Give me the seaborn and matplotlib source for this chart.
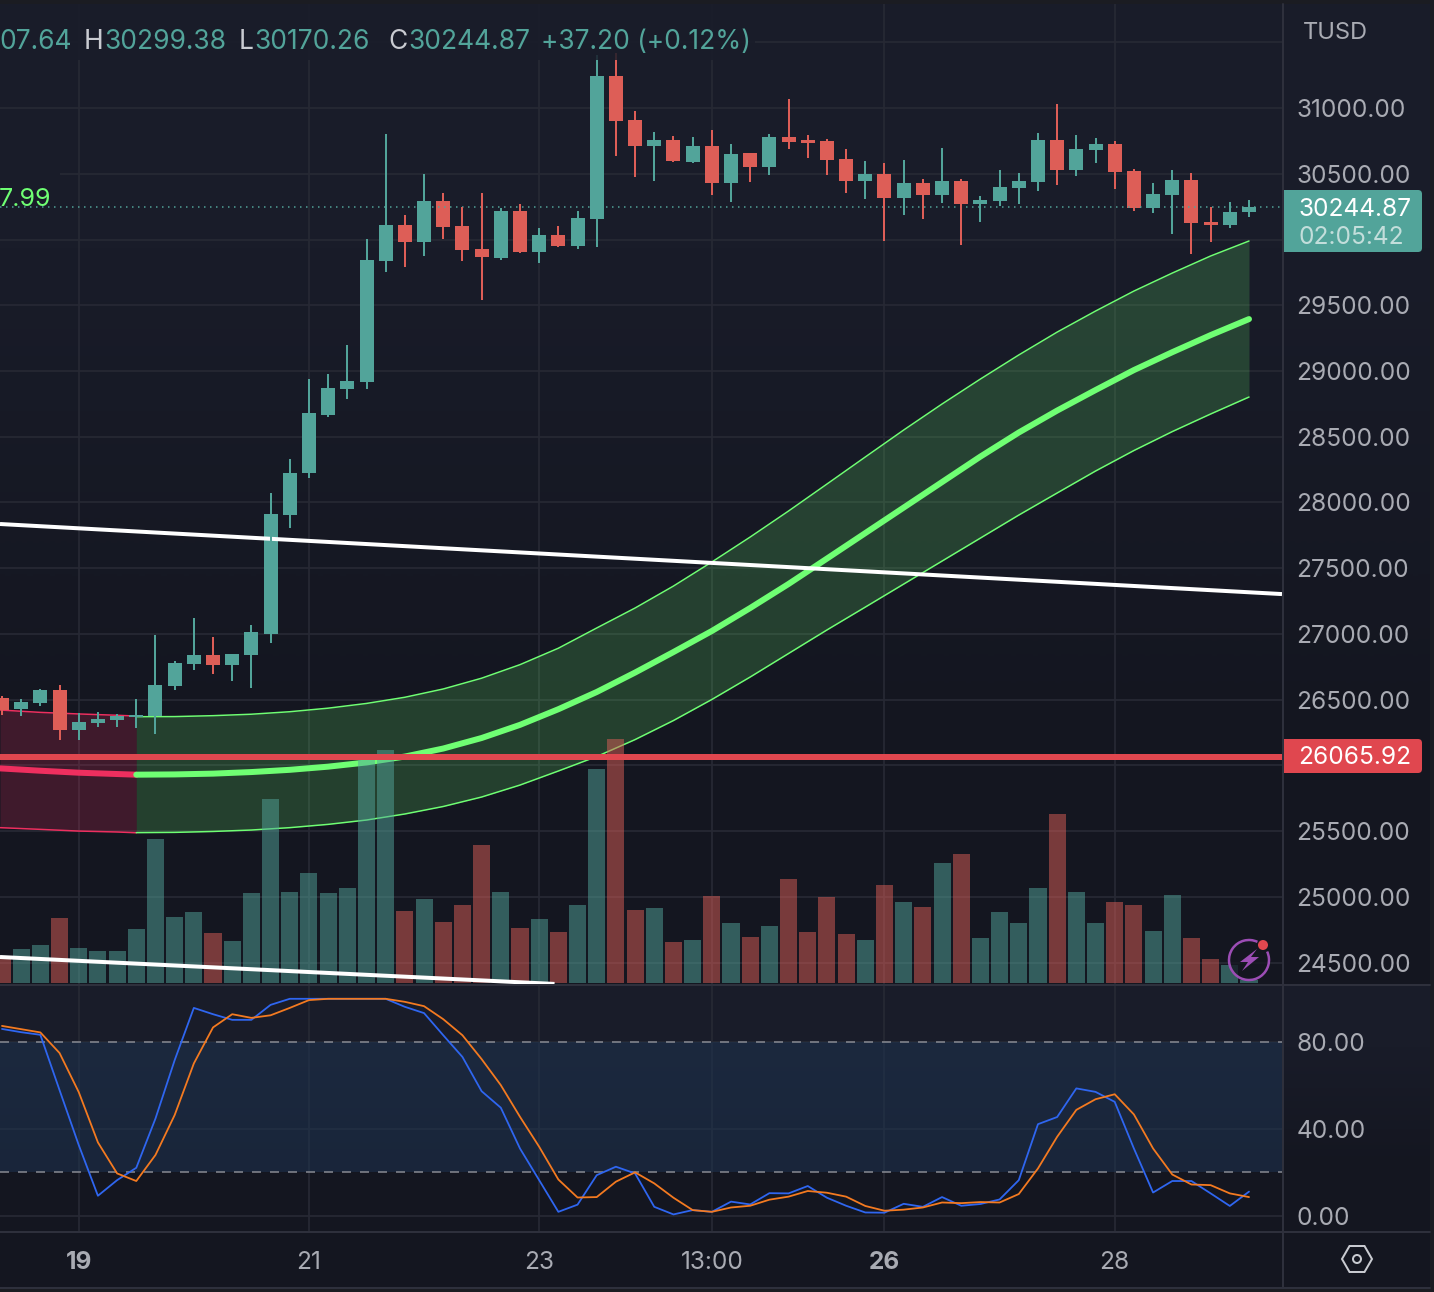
import matplotlib
matplotlib.use("Agg")
import matplotlib.pyplot as plt
from matplotlib.colors import LinearSegmentedColormap
from matplotlib.lines import Line2D
from matplotlib.patches import Circle, FancyBboxPatch, Polygon, Rectangle, RegularPolygon, Arc
import numpy as np
import pandas as pd
import seaborn as sns

W, H = 1434, 1292

opens = [26512, 26429, 26474, 26573, 26269, 26322, 26345, 26368, 26375, 26604,
         26771, 26839, 26763, 26839, 26999, 27904, 28224, 28665, 28863, 28916,
         29837, 30110, 29981, 30293, 30103, 29928, 29859, 30217, 29905, 30034,
         29951, 30156, 31244, 30909, 30711, 30757, 30590, 30711, 30430, 30658,
         30552, 30780, 30757, 30749, 30612, 30445, 30498, 30316, 30430, 30339,
         30445, 30270, 30293, 30392, 30438, 30757, 30529, 30681, 30727, 30521,
         30240, 30339, 30453, 30133, 30110, 30207.64]
highs = [26527, 26505, 26581, 26611, 26398, 26406, 26391, 26505, 26992, 26794,
         27121, 26976, 26847, 27068, 28072, 28330, 28939, 28977, 29198, 30004,
         30803, 30186, 30498, 30354, 30247, 30354, 30240, 30270, 30088, 30103,
         30217, 31404, 31419, 30978, 30818, 30787, 30780, 30833, 30727, 30658,
         30803, 31069, 30795, 30765, 30689, 30597, 30582, 30605, 30460, 30696,
         30460, 30331, 30529, 30506, 30810, 31030, 30795, 30772, 30749, 30536,
         30430, 30529, 30506, 30247, 30285, 30299.38]
lows = [26383, 26375, 26451, 26193, 26193, 26292, 26292, 26284, 26238, 26573,
        26725, 26695, 26642, 26588, 26931, 27806, 28186, 28650, 28787, 28863,
        29753, 29791, 29875, 30004, 29837, 29540, 29844, 29897, 29821, 29943,
        29928, 29943, 30635, 30476, 30445, 30590, 30582, 30339, 30285, 30438,
        30491, 30689, 30620, 30491, 30354, 30308, 29989, 30186, 30156, 30278,
        29958, 30133, 30255, 30270, 30369, 30415, 30483, 30582, 30384, 30217,
        30202, 30042, 29890, 29981, 30088, 30170.26]
closes = [26421, 26482, 26573, 26269, 26330, 26353, 26375, 26383, 26611, 26779,
          26839, 26763, 26847, 27014, 27912, 28224, 28680, 28870, 28924, 29844,
          30110, 29981, 30293, 30095, 29920, 29867, 30217, 29905, 30034, 29951,
          30164, 31244, 30902, 30711, 30757, 30597, 30711, 30430, 30651, 30552,
          30780, 30742, 30734, 30605, 30445, 30498, 30316, 30430, 30339, 30445,
          30270, 30301, 30399, 30445, 30757, 30529, 30689, 30727, 30514, 30240,
          30346, 30453, 30126, 30110, 30209, 30244.87]
volumes = [26, 34, 38, 65, 35, 32, 32, 54, 144, 66,
           71, 50, 42, 90, 184, 91, 110, 90, 95, 223,
           233, 72, 84, 61, 78, 138, 91, 55, 64, 51,
           78, 214, 244, 73, 75, 41, 43, 87, 60, 46,
           57, 104, 51, 86, 49, 43, 98, 81, 76, 120,
           129, 45, 71, 60, 95, 169, 91, 60, 81, 78,
           52, 88, 45, 24, 18, 3]

# envelope, sampled every second bar
bear_bars = [-0.104, 2, 4, 6, 7]
bear_upper = [26421, 26403, 26391, 26381, 26375]
bear_mid = [25977, 25959, 25944, 25934, 25929]
bear_lower = [25526, 25513, 25500, 25493, 25487]
bull_bars = list(range(7, 66, 2))
bull_upper = [26370, 26371, 26378, 26389, 26408, 26435, 26471, 26518, 26581, 26663,
              26766, 26891, 27045, 27197, 27364, 27547, 27737, 27935, 28140, 28346,
              28551, 28749, 28939, 29122, 29296, 29456, 29608, 29745, 29875, 29989]
bull_mid = [25929, 25931, 25937, 25949, 25966, 25990, 26022, 26067, 26128, 26208,
            26308, 26427, 26558, 26706, 26862, 27022, 27197, 27380, 27573, 27767,
            27961, 28155, 28349, 28532, 28699, 28855, 29007, 29143, 29273, 29395]
bull_lower = [25488, 25490, 25497, 25508, 25526, 25551, 25584, 25630, 25687, 25759,
              25850, 25957, 26067, 26196, 26341, 26501, 26672, 26851, 27030, 27204,
              27379, 27554, 27729, 27904, 28072, 28239, 28395, 28539, 28673, 28802]

trend_upper_x = [-0.104, 66.72]
trend_upper_y = [27836, 27303]
trend_lower_x = [-0.104, 28.8]
trend_lower_y = [24542, 24337]

stoch_k = [86.1, 84.6, 83.4, 57.9, 32.6, 9.2, 16.4, 22.1, 44.8, 71.7,
           95.8, 92.9, 90.3, 90.3, 97.2, 100, 100, 100, 100, 100,
           100, 96.3, 93.4, 83.2, 73.2, 57.4, 49.8, 31, 16.4, 1.8,
           5.1, 18.7, 22.6, 19.5, 4.1, 0.6, 2.6, 1.8, 6.5, 5.2,
           10.4, 10.3, 13.7, 8.3, 4.6, 1.5, 1.4, 5.5, 4.1, 8.6,
           4.6, 5.4, 7.5, 16.4, 42.2, 45.5, 58.7, 57.1, 52.5, 31,
           10.7, 16, 16, 10.3, 4.5, 11.1]
stoch_d = [87.5, 86, 84.5, 75, 57, 33.8, 19.5, 16, 28, 46.4,
           70.2, 86.8, 92.9, 91.2, 92.4, 95.8, 99.4, 100, 100, 100,
           100, 98.6, 96.6, 90.6, 83.2, 72.2, 60.2, 45.6, 31.8, 16.7,
           8.4, 8.6, 15.7, 20, 14.9, 8.3, 2.6, 1.8, 3.8, 4.6,
           7.4, 8.8, 11.4, 10.6, 8.8, 4.5, 2.3, 2.8, 3.8, 6.1,
           5.8, 6.3, 6.1, 10, 21.8, 36.4, 48.8, 53.7, 56, 46.7,
           31, 19, 14.4, 14.1, 10.3, 8.6]

price_ticks = list(range(24500, 32000, 500))
# these prices sit behind the tags or the unit label
hidden_ticks = [26000, 30000, 31500]
stoch_ticks = [0, 40, 80]
time_ticks = [4, 16, 28, 37, 46, 58]
time_labels = ["19", "21", "23", "13:00", "26", "28"]
bold_labels = ["19", "26"]

level_price = 26065.92
last_price = 30244.87

GREEN = "#52A49A"
RED = "#DD5E57"
LIME = "#6FFF73"
PINK = "#EE2F5F"
LEVEL = "#E0474F"
GRID = "#272934"
EDGE = "#2E303C"
LABEL = "#A9ABB3"
TOP_BG = "#191C29"
BOTTOM_BG = "#141620"

sns.set_theme(style="dark", rc={"axes.facecolor": "none", "figure.facecolor": "#1B1C22"})
plt.rcParams["font.family"] = ["Inter", "DejaVu Sans"]


def px_rect(x0, y0, x1, y1):
    return [x0 / W, 1 - y1 / H, (x1 - x0) / W, (y1 - y0) / H]


def px_lw(px):
    return px * 72 / 100


def gradient(fig, rect, top, bottom):
    ax = fig.add_axes(px_rect(*rect), zorder=-1)
    cmap = LinearSegmentedColormap.from_list("bg", [top, bottom])
    ax.imshow([[0], [1]], cmap=cmap, aspect="auto", interpolation="bilinear")
    ax.axis("off")


def clean(ax):
    for side in ax.spines:
        ax.spines[side].set_visible(False)
    ax.tick_params(length=0)


fig = plt.figure(figsize=(W / 100, H / 100), dpi=100)

gradient(fig, (0, 4, 1430, 985), TOP_BG, BOTTOM_BG)
gradient(fig, (0, 985, 1430, 1232), TOP_BG, BOTTOM_BG)
gradient(fig, (0, 1232, 1430, 1288), BOTTOM_BG, BOTTOM_BG)

bars = np.arange(len(closes))
xlim = (-0.104, 66.72)
price_lim = (24329, 31792)
main_rect = px_rect(0, 4, 1282, 985)

# grid and envelope
ax_base = fig.add_axes(main_rect, zorder=1)
clean(ax_base)
ax_base.set_yticks(price_ticks)
ax_base.set_xticks(time_ticks)
ax_base.grid(True, color=GRID, linewidth=px_lw(1.7))
ax_base.tick_params(labelleft=False, labelbottom=False)
ax_base.fill_between(bear_bars, bear_lower, bear_upper, color=PINK, alpha=0.2, linewidth=0)
ax_base.fill_between(bull_bars, bull_lower, bull_upper, color=LIME, alpha=0.18, linewidth=0)
for series in (bear_upper, bear_lower):
    sns.lineplot(x=bear_bars, y=series, ax=ax_base, color=PINK, linewidth=px_lw(1.5))
sns.lineplot(x=bear_bars, y=bear_mid, ax=ax_base, color=PINK, linewidth=px_lw(6))
for series in (bull_upper, bull_lower):
    sns.lineplot(x=bull_bars, y=series, ax=ax_base, color=LIME, linewidth=px_lw(1.5))
sns.lineplot(x=bull_bars, y=bull_mid, ax=ax_base, color=LIME, linewidth=px_lw(6),
             solid_capstyle="round")
ax_base.set_xlim(xlim)
ax_base.set_ylim(price_lim)
ax_base.set(xlabel="", ylabel="")

# volume, height in the same units as the picture's bar heights
vol_df = pd.DataFrame({
    "bar": bars,
    "volume": volumes,
    "side": ["up" if c >= o else "down" for o, c in zip(opens, closes)],
})
ax_vol = fig.add_axes(main_rect, zorder=2)
sns.barplot(data=vol_df, x="bar", y="volume", hue="side", palette={"up": GREEN, "down": RED},
            native_scale=True, dodge=False, width=0.89, saturation=1, alpha=0.5,
            legend=False, ax=ax_vol, linewidth=0)
ax_vol.set_xlim(xlim)
ax_vol.set_ylim(-2, 979)
ax_vol.axis("off")

# candles, levels, price scale
ax = fig.add_axes(main_rect, zorder=3)
clean(ax)
ax.plot(trend_upper_x, trend_upper_y, color="white", linewidth=px_lw(4), solid_capstyle="butt")
ax.plot(trend_lower_x, trend_lower_y, color="white", linewidth=px_lw(4), solid_capstyle="butt")
ax.axhline(level_price, color=LEVEL, linewidth=px_lw(6))
ax.axhline(last_price, color=GREEN, linewidth=px_lw(1.5), linestyle=(0, (1, 3)))
colors = [GREEN if c >= o else RED for o, c in zip(opens, closes)]
ax.vlines(bars, lows, highs, colors=colors, linewidth=px_lw(2))
body_bottom = np.minimum(opens, closes)
body_height = np.maximum(np.abs(np.array(closes) - np.array(opens)), 8)
ax.bar(bars, body_height, bottom=body_bottom, width=0.73, color=colors, linewidth=0)
ax.set_xlim(xlim)
ax.set_ylim(price_lim)
ax.yaxis.tick_right()
ax.set_yticks(price_ticks)
ax.set_yticklabels(["" if p in hidden_ticks else f"{p:.2f}" for p in price_ticks],
                   fontsize=17.6, color=LABEL)
ax.tick_params(axis="y", pad=10.5)
ax.set_xticks([])

# stochastic pane
ax_st = fig.add_axes(px_rect(0, 986, 1282, 1232), zorder=1)
clean(ax_st)
ax_st.axhspan(20, 80, color="#1E3350", alpha=0.55, linewidth=0)
ax_st.set_yticks(stoch_ticks)
ax_st.set_xticks(time_ticks)
ax_st.grid(True, color=GRID, linewidth=px_lw(1.7))
for lvl in (20, 80):
    ax_st.axhline(lvl, color="#8A8C94", linewidth=px_lw(1.5), linestyle=(0, (6, 6)))
sns.lineplot(x=bars, y=stoch_k, ax=ax_st, color="#2F66F0", linewidth=px_lw(1.8))
sns.lineplot(x=bars, y=stoch_d, ax=ax_st, color="#F47A20", linewidth=px_lw(1.8))
ax_st.set_xlim(xlim)
ax_st.set_ylim(-7.5, 105.9)
ax_st.set(xlabel="", ylabel="")
ax_st.yaxis.tick_right()
ax_st.set_yticklabels([f"{v:.2f}" for v in stoch_ticks], fontsize=17.6, color=LABEL)
ax_st.set_xticklabels(time_labels, fontsize=17.6, color=LABEL)
for label in ax_st.get_xticklabels():
    if label.get_text() in bold_labels:
        label.set_fontweight("bold")
ax_st.tick_params(axis="y", pad=10.5)
ax_st.tick_params(axis="x", pad=14)

# overlay in pixel coordinates: header, tags, dividers, icons
over = fig.add_axes([0, 0, 1, 1], zorder=5)
over.set_xlim(0, W)
over.set_ylim(H, 0)
over.axis("off")

over.add_patch(Rectangle((0, 4), 755, 56, facecolor=TOP_BG, edgecolor="none", alpha=0.85))
over.add_patch(Rectangle((0, 168), 60, 36, facecolor=TOP_BG, edgecolor="none"))
for xs, ys in [((0, 1430), (985, 985)), ((0, 1430), (1232, 1232)), ((0, 1430), (1288, 1288)),
               ((1283, 1283), (4, 1288))]:
    over.add_line(Line2D(xs, ys, color=EDGE, linewidth=px_lw(2)))

head = {"fontsize": 19, "va": "center"}
over.text(72, 42, "07.64", color=GREEN, ha="right", **head)
over.text(84, 42, "H", color="#C9CBD1", **head)
over.text(104.5, 42, "30299.38", color=GREEN, **head)
over.text(239, 42, "L", color="#C9CBD1", **head)
over.text(254.5, 42, "30170.26", color=GREEN, **head)
over.text(388, 42, "C", color="#C9CBD1", **head)
over.text(408.5, 42, "30244.87", color=GREEN, **head)
over.text(541, 42, "+37.20 (+0.12%)", color=GREEN, **head)
over.text(51, 199, "7.99", color=LIME, ha="right", fontsize=18, va="center")
over.text(1303, 33, "TUSD", color=LABEL, fontsize=17, va="center")


def tag(y0, y1, color):
    over.add_patch(FancyBboxPatch((1285, y0 + 3), 134, y1 - y0 - 6, facecolor=color, edgecolor="none",
                                  boxstyle="round,pad=3,rounding_size=4"))
    over.add_patch(Rectangle((1282, y0), 8, y1 - y0, facecolor=color, edgecolor="none"))


tag(190, 252, GREEN)
over.text(1298, 209, "30244.87", color="white", fontsize=17.6, va="center")
over.text(1298, 237, "02:05:42", color="#C3DEDB", fontsize=17.6, va="center")
tag(739, 773, LEVEL)
over.text(1298, 758, "26065.92", color="white", fontsize=17.6, va="center")

# settings icon
over.add_patch(RegularPolygon((1357, 1259), 6, radius=15, orientation=np.pi / 6, fill=False,
                              edgecolor="#C9CBD1", linewidth=px_lw(2)))
over.add_patch(Circle((1357, 1259), 4, fill=False, edgecolor="#C9CBD1", linewidth=px_lw(2)))

# bolt badge
over.add_patch(Circle((1249, 960), 20, facecolor=BOTTOM_BG, edgecolor="none", alpha=0.75))
over.add_patch(Arc((1249, 960), 40, 40, theta1=-25, theta2=295, color="#9C4DB5", linewidth=px_lw(2.5)))
over.add_patch(Polygon([(1257, 949), (1240, 962), (1248, 962), (1242, 971), (1259, 957), (1251, 957)],
                       facecolor="#9C4DB5", edgecolor="none"))
over.add_patch(Circle((1263, 945), 5, facecolor=LEVEL, edgecolor="none"))

fig.savefig("out.png", dpi=100, facecolor=fig.get_facecolor())
